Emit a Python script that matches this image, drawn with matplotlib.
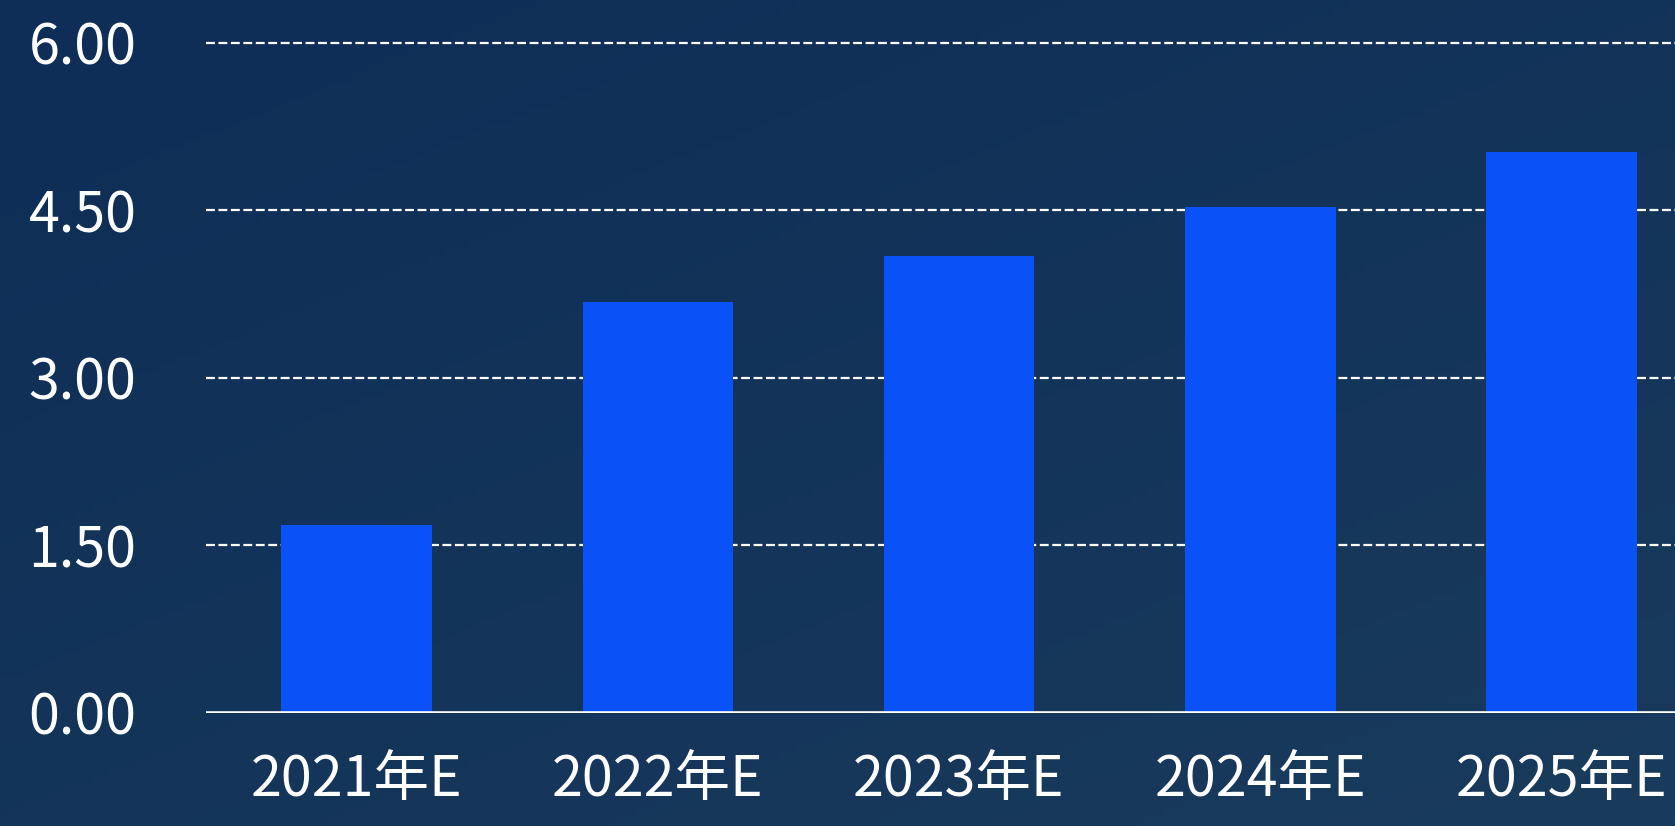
import matplotlib.pyplot as plt
import numpy as np

plt.rcParams['font.family'] = ['Noto Sans CJK SC', 'DejaVu Sans']

years = ['2021年E', '2022年E', '2023年E', '2024年E', '2025年E']
values = [1.68, 3.68, 4.09, 4.53, 5.02]
yticks = [0.0, 1.5, 3.0, 4.5, 6.0]

W, H = 1675, 826
fig = plt.figure(figsize=(W / 100, H / 100), dpi=100)

# background gradient, dark navy top-left to slightly lighter bottom-right
bg = fig.add_axes([0, 0, 1, 1], zorder=0)
gx, gy = np.meshgrid(np.linspace(0, 1, 200), np.linspace(0, 1, 100))
t = (gx * 0.45 + gy * 0.55)
c0 = np.array([0x0e, 0x2d, 0x57]) / 255
c1 = np.array([0x19, 0x3b, 0x5c]) / 255
img = c0[None, None, :] * (1 - t[..., None]) + c1[None, None, :] * t[..., None]
bg.imshow(img, aspect='auto', extent=[0, 1, 0, 1])
bg.axis('off')

left = 206 / W
bottom = (H - 712.5) / H
height = (712.5 - 42.7) / H
width = 5 * 301.2 / W
ax = fig.add_axes([left, bottom, width, height], zorder=1)
ax.patch.set_alpha(0)

x = np.arange(len(years))
ax.bar(x, values, width=0.5, color='#0a52f7', zorder=3)

ax.set_xlim(-0.5, 4.5)
ax.set_ylim(0, 6)
ax.set_yticks(yticks)
ax.set_yticklabels([f'{v:.2f}' for v in yticks])
ax.set_xticks(x)
ax.set_xticklabels(years)

for v in yticks[1:]:
    ax.axhline(v, color='white', lw=1.6, ls=(0, (4, 1.6)), zorder=1, clip_on=False)
ax.axhline(0, color='white', lw=2.6, zorder=4)

for s in ax.spines.values():
    s.set_visible(False)
ax.tick_params(axis='both', length=0, colors='white', labelsize=40)
ax.tick_params(axis='y', pad=50)
ax.tick_params(axis='x', pad=28)

fig.savefig('out.png', dpi=100)
